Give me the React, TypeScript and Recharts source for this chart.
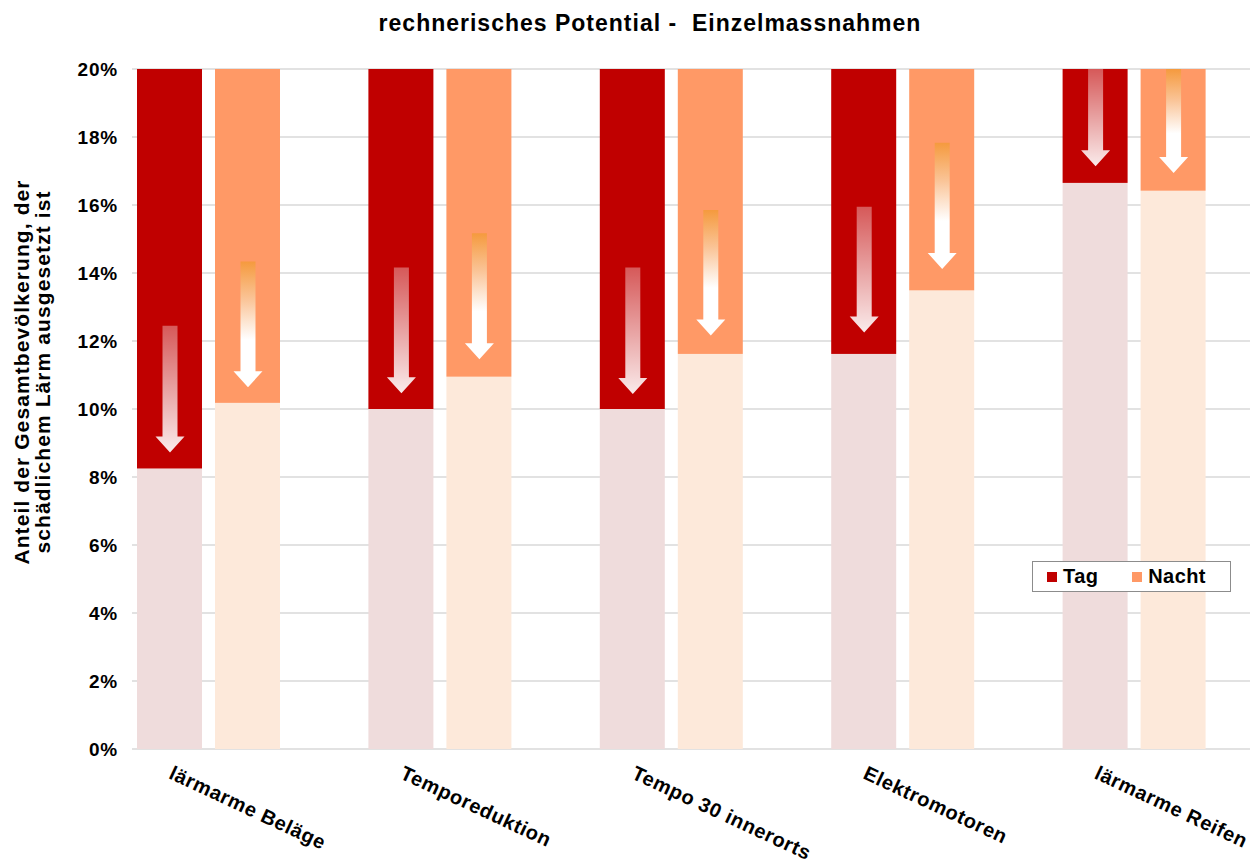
import React from 'react';
import { Bar, BarChart, CartesianGrid, Label, Legend, XAxis, YAxis } from 'recharts';

const kategorien = ['lärmarme Beläge', 'Temporeduktion', 'Tempo 30 innerorts', 'Elektromotoren', 'lärmarme Reifen'];

// Anteil nach Massnahme (helle Säulenteile) und Reduktion bis 20% (dunkle Teile)
const tagNachher = [8.25, 10.0, 10.0, 11.62, 16.65];
const tagReduktion = [11.75, 10.0, 10.0, 8.38, 3.35];
const nachtNachher = [10.18, 10.95, 11.62, 13.49, 16.42];
const nachtReduktion = [9.82, 9.05, 8.38, 6.51, 3.58];

// Pfeile (von / bis, in %)
const tagPfeilVon = [12.45, 14.16, 14.16, 15.95, 20.0];
const tagPfeilBis = [8.72, 10.46, 10.44, 12.25, 17.14];
const nachtPfeilVon = [14.34, 15.17, 15.85, 17.83, 20.0];
const nachtPfeilBis = [10.64, 11.46, 12.16, 14.12, 16.94];

const yTicks = [0, 2, 4, 6, 8, 10, 12, 14, 16, 18, 20];

const legendItems = [
    { name: 'Tag', color: '#C00000' },
    { name: 'Nacht', color: '#FF9966' },
];

const data = kategorien.map((name, i) => ({
    name,
    tagNachher: tagNachher[i],
    tagReduktion: tagReduktion[i],
    nachtNachher: nachtNachher[i],
    nachtReduktion: nachtReduktion[i],
    tagVon: tagPfeilVon[i],
    tagBis: tagPfeilBis[i],
    nachtVon: nachtPfeilVon[i],
    nachtBis: nachtPfeilBis[i],
}));

const FONT = '"Liberation Sans", Arial, sans-serif';

function ArrowBar(props: any) {
    const { x, y, width, height, payload, fill, kind } = props;
    const base = payload[kind + 'Nachher'];
    const red = payload[kind + 'Reduktion'];
    const ppu = height / red;
    const top = base + red;
    const yOf = (v: number) => y + (top - v) * ppu;
    const yTop = yOf(payload[kind + 'Von']);
    const yTip = yOf(payload[kind + 'Bis']);
    const cx = x + width / 2 + 0.5;
    const shaft = 7.5;
    const head = 14.5;
    const headH = 16;
    const pts = [
        [cx - shaft, yTop],
        [cx + shaft, yTop],
        [cx + shaft, yTip - headH],
        [cx + head, yTip - headH],
        [cx, yTip],
        [cx - head, yTip - headH],
        [cx - shaft, yTip - headH],
    ].map((p) => p.join(',')).join(' ');
    return (
        <g>
            <rect x={x} y={y} width={width} height={height} fill={fill} />
            <polygon points={pts} fill={`url(#pfeil-${kind})`} />
        </g>
    );
}

function CategoryTick(props: any) {
    const { x, payload } = props;
    const tx = x - 41;
    const ty = 778;
    return (
        <text
            x={tx}
            y={ty}
            transform={`rotate(25, ${tx}, ${ty})`}
            textAnchor="start"
            fontFamily={FONT}
            fontWeight="bold"
            fontSize={20}
            letterSpacing={0.6}
            fill="#000"
        >
            {payload.value}
        </text>
    );
}

function PercentTick(props: any) {
    const { y, payload } = props;
    return (
        <text
            x={118}
            y={y + 7}
            textAnchor="end"
            fontFamily={FONT}
            fontWeight="bold"
            fontSize={19}
            letterSpacing={0.8}
            fill="#000"
        >
            {payload.value}%
        </text>
    );
}

function YLabel() {
    const cy = 372;
    return (
        <g fontFamily={FONT} fontWeight="bold" fontSize={21} fill="#000">
            <text x={29} y={cy} transform={`rotate(-90, 29, ${cy})`} textAnchor="middle" letterSpacing={1.1}>
                Anteil der Gesamtbevölkerung, der
            </text>
            <text x={50} y={cy} transform={`rotate(-90, 50, ${cy})`} textAnchor="middle" letterSpacing={1.1}>
                schädlichem Lärm ausgesetzt ist
            </text>
        </g>
    );
}

function LegendBox() {
    return (
        <div
            style={{
                boxSizing: 'border-box',
                width: 199,
                height: 31,
                border: '1px solid #8C8C8C',
                background: '#fff',
                display: 'flex',
                alignItems: 'center',
                paddingLeft: 14,
                fontFamily: FONT,
                fontWeight: 'bold',
                fontSize: 20,
                letterSpacing: 0.4,
            }}
        >
            {legendItems.map((item, i) => (
                <div key={item.name} style={{ display: 'flex', alignItems: 'center', marginRight: i === 0 ? 34 : 0 }}>
                    <span style={{ width: 10, height: 10, background: item.color, marginRight: 6 }} />
                    <span>{item.name}</span>
                </div>
            ))}
        </div>
    );
}

export default function App() {
    return (
        <div style={{ position: 'absolute', left: 0, top: 0, width: 1258, height: 864, background: '#fff' }}>
            <div
                style={{
                    position: 'absolute',
                    left: 0,
                    top: 10,
                    width: 1300,
                    textAlign: 'center',
                    fontFamily: FONT,
                    fontWeight: 'bold',
                    fontSize: 23,
                    letterSpacing: 1,
                    zIndex: 2,
                }}
            >
                rechnerisches Potential -&nbsp; Einzelmassnahmen
            </div>
            <BarChart
                width={1258}
                height={864}
                data={data}
                margin={{ top: 69, right: 8, bottom: 0, left: 0 }}
                barSize={65}
                barGap={13}
            >
                <defs>
                    <linearGradient id="pfeil-tag" x1="0" y1="0" x2="0" y2="1">
                        <stop offset="0" stopColor="#ffffff" stopOpacity={0.35} />
                        <stop offset="1" stopColor="#ffffff" stopOpacity={0.92} />
                    </linearGradient>
                    <linearGradient id="pfeil-nacht" x1="0" y1="0" x2="0" y2="1">
                        <stop offset="0" stopColor="#F59A3E" />
                        <stop offset="0.3" stopColor="#FAC497" />
                        <stop offset="0.62" stopColor="#ffffff" />
                        <stop offset="1" stopColor="#ffffff" />
                    </linearGradient>
                </defs>
                <CartesianGrid vertical={false} stroke="#D9D9D9" strokeWidth={1.5} x={132} width={1118} />
                <XAxis
                    dataKey="name"
                    height={115}
                    axisLine={false}
                    tickLine={false}
                    interval={0}
                    tick={<CategoryTick />}
                />
                <YAxis
                    width={93}
                    domain={[0, 20]}
                    ticks={yTicks}
                    axisLine={false}
                    tickLine={false}
                    tick={<PercentTick />}
                    allowDataOverflow
                >
                    <Label content={<YLabel />} />
                </YAxis>
                <Legend
                    layout="horizontal"
                    verticalAlign="middle"
                    align="center"
                    wrapperStyle={{ left: 1032, top: 561, width: 199, height: 31 }}
                    content={<LegendBox />}
                />
                <Bar dataKey="tagNachher" stackId="tag" fill="#EFDCDC" isAnimationActive={false} />
                <Bar
                    dataKey="tagReduktion"
                    stackId="tag"
                    fill="#C00000"
                    isAnimationActive={false}
                    shape={(p: any) => <ArrowBar {...p} kind="tag" />}
                />
                <Bar dataKey="nachtNachher" stackId="nacht" fill="#FDE9DA" isAnimationActive={false} />
                <Bar
                    dataKey="nachtReduktion"
                    stackId="nacht"
                    fill="#FF9966"
                    isAnimationActive={false}
                    shape={(p: any) => <ArrowBar {...p} kind="nacht" />}
                />
            </BarChart>
        </div>
    );
}
